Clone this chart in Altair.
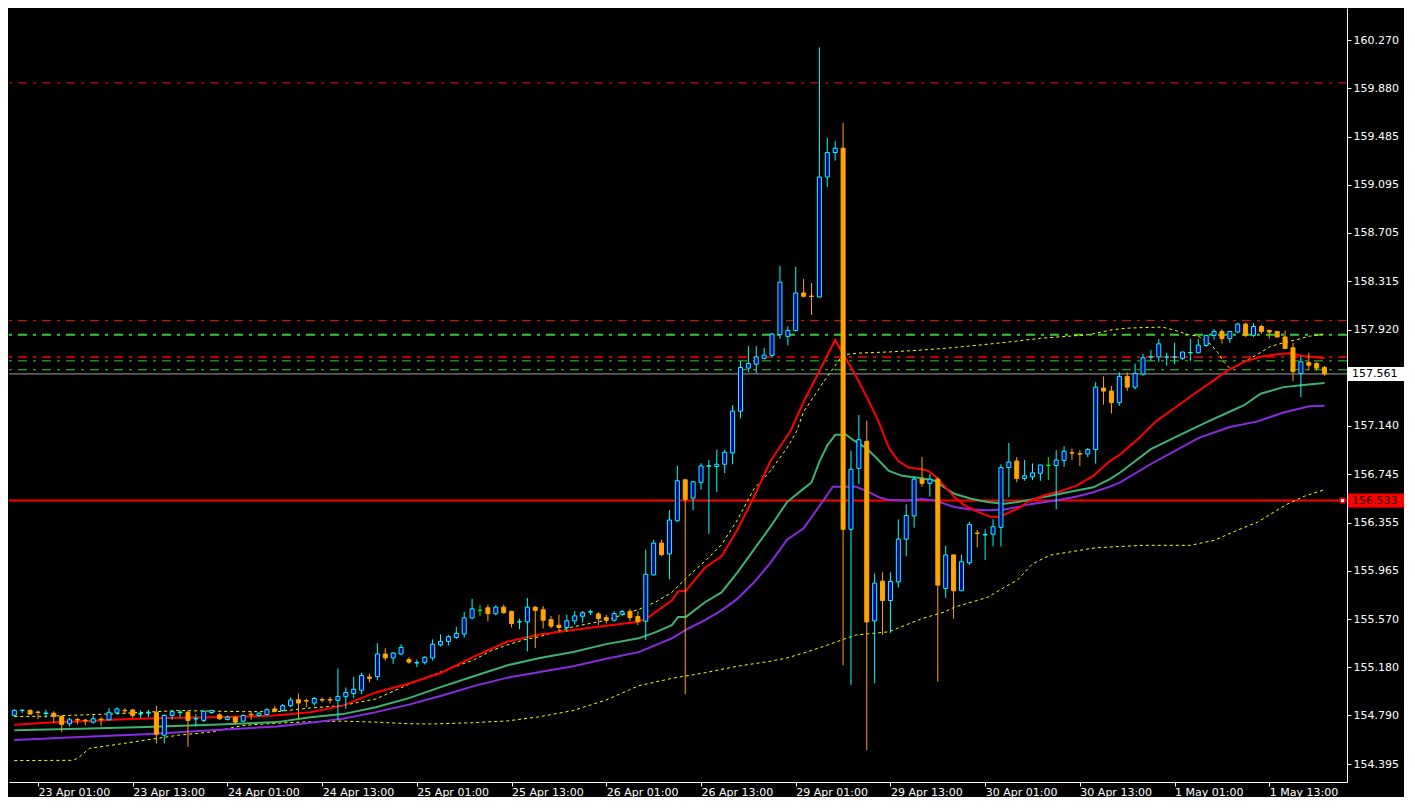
import json
import altair as alt
import pandas as pd

# ---------------- data (hourly candles, bar index 0 = 23 Apr 01:00) ----------------
bar_index = list(range(-3, 164))

opens = [
    154.790, 154.829, 154.830, 154.817, 154.805, 154.807, 154.780, 154.722, 154.756, 154.751,
    154.735, 154.759, 154.754, 154.810, 154.831, 154.834, 154.800, 154.808, 154.815, 154.629,
    154.789, 154.813, 154.815, 154.760, 154.749, 154.813, 154.794, 154.757, 154.775, 154.743,
    154.799, 154.789, 154.797, 154.842, 154.829, 154.868, 154.916, 154.910, 154.890, 154.918,
    154.918, 154.912, 154.941, 154.968, 154.994, 155.101, 155.104, 155.288, 155.256, 155.288,
    155.243, 155.215, 155.221, 155.256, 155.362, 155.389, 155.423, 155.450, 155.581, 155.642,
    155.663, 155.615, 155.668, 155.634, 155.548, 155.548, 155.668, 155.647, 155.567, 155.522,
    155.503, 155.557, 155.594, 155.628, 155.613, 155.583, 155.562, 155.612, 155.634, 155.592,
    155.554, 155.930, 156.188, 156.100, 156.369, 156.702, 156.553, 156.681, 156.812, 156.809,
    156.828, 156.920, 157.259, 157.608, 157.640, 157.688, 157.712, 157.880, 157.866, 157.914,
    158.218, 158.193, 158.186, 159.159, 159.358, 159.393, 156.300, 156.795, 157.014, 155.556,
    155.879, 155.722, 155.873, 156.220, 156.409, 156.707, 156.673, 156.707, 155.820, 156.092,
    155.801, 156.028, 156.270, 156.254, 156.260, 156.316, 156.801, 156.854, 156.713, 156.726,
    156.755, 156.819, 156.817, 156.859, 156.922, 156.913, 156.912, 156.947, 157.446, 157.422,
    157.328, 157.541, 157.454, 157.560, 157.699, 157.699, 157.698, 157.697, 157.688, 157.733,
    157.733, 157.792, 157.874, 157.906, 157.848, 157.901, 157.965, 157.874, 157.946, 157.914,
    157.906, 157.861, 157.773, 157.565, 157.653, 157.645, 157.613,
]
highs = [
    154.840, 154.840, 154.840, 154.830, 154.836, 154.823, 154.790, 154.770, 154.770, 154.762,
    154.789, 154.775, 154.850, 154.855, 154.847, 154.842, 154.829, 154.834, 154.868, 154.797,
    154.829, 154.834, 154.829, 154.802, 154.829, 154.834, 154.807, 154.789, 154.780, 154.797,
    154.823, 154.815, 154.847, 154.868, 154.882, 154.935, 154.967, 154.927, 154.940, 154.935,
    154.940, 155.170, 155.016, 155.104, 155.136, 155.128, 155.375, 155.335, 155.304, 155.367,
    155.261, 155.242, 155.269, 155.407, 155.447, 155.442, 155.509, 155.629, 155.735, 155.687,
    155.687, 155.682, 155.687, 155.639, 155.575, 155.743, 155.677, 155.677, 155.597, 155.607,
    155.607, 155.637, 155.637, 155.647, 155.629, 155.607, 155.634, 155.647, 155.655, 155.634,
    156.135, 156.215, 156.215, 156.455, 156.814, 156.705, 156.690, 156.836, 156.862, 156.947,
    156.947, 157.307, 157.667, 157.786, 157.786, 157.773, 157.893, 158.439, 157.946, 158.431,
    158.333, 158.298, 160.211, 159.476, 159.452, 159.598, 156.939, 157.227, 157.182, 155.943,
    155.951, 155.951, 156.380, 156.502, 156.726, 156.886, 156.747, 156.726, 156.167, 156.095,
    156.095, 156.361, 156.294, 156.300, 156.382, 156.827, 157.000, 156.886, 156.862, 156.835,
    156.822, 156.886, 156.942, 156.974, 156.955, 156.942, 156.960, 157.494, 157.541, 157.462,
    157.573, 157.573, 157.645, 157.725, 157.754, 157.845, 157.733, 157.813, 157.739, 157.845,
    157.845, 157.874, 157.925, 157.925, 157.906, 157.978, 157.978, 157.973, 157.960, 157.920,
    157.910, 157.914, 157.813, 157.707, 157.733, 157.659, 157.627,
]
lows = [
    154.780, 154.810, 154.800, 154.760, 154.770, 154.730, 154.655, 154.700, 154.717, 154.709,
    154.722, 154.703, 154.749, 154.797, 154.800, 154.770, 154.770, 154.775, 154.562, 154.562,
    154.754, 154.775, 154.535, 154.700, 154.735, 154.802, 154.754, 154.749, 154.722, 154.735,
    154.754, 154.780, 154.789, 154.815, 154.820, 154.855, 154.762, 154.855, 154.868, 154.895,
    154.887, 154.754, 154.843, 154.930, 154.962, 155.056, 155.074, 155.234, 155.208, 155.277,
    155.208, 155.181, 155.202, 155.234, 155.349, 155.357, 155.410, 155.421, 155.570, 155.597,
    155.554, 155.602, 155.615, 155.503, 155.490, 155.309, 155.335, 155.495, 155.495, 155.469,
    155.469, 155.527, 155.543, 155.602, 155.522, 155.535, 155.549, 155.597, 155.554, 155.522,
    155.402, 155.925, 156.081, 155.895, 156.361, 154.962, 156.455, 156.622, 156.263, 156.601,
    156.756, 156.827, 157.200, 157.573, 157.565, 157.680, 157.693, 157.845, 157.792, 157.906,
    158.181, 158.040, 158.180, 159.079, 159.292, 155.194, 155.037, 156.667, 154.509, 155.050,
    155.442, 155.460, 155.828, 156.081, 156.313, 156.646, 156.566, 155.063, 155.743, 155.575,
    155.800, 156.010, 156.153, 156.050, 156.161, 156.161, 156.561, 156.681, 156.694, 156.699,
    156.694, 156.699, 156.462, 156.806, 156.862, 156.814, 156.886, 156.833, 157.312, 157.240,
    157.302, 157.422, 157.435, 157.547, 157.667, 157.659, 157.627, 157.640, 157.675, 157.667,
    157.728, 157.781, 157.840, 157.808, 157.813, 157.893, 157.861, 157.861, 157.885, 157.848,
    157.858, 157.768, 157.501, 157.374, 157.587, 157.587, 157.547,
]
closes = [
    154.830, 154.831, 154.800, 154.813, 154.809, 154.780, 154.717, 154.754, 154.752, 154.747,
    154.762, 154.755, 154.815, 154.842, 154.827, 154.789, 154.804, 154.812, 154.637, 154.789,
    154.820, 154.817, 154.749, 154.764, 154.823, 154.829, 154.762, 154.775, 154.735, 154.789,
    154.795, 154.807, 154.836, 154.823, 154.868, 154.914, 154.890, 154.906, 154.927, 154.914,
    154.914, 154.944, 154.976, 155.002, 155.114, 155.090, 155.288, 155.256, 155.296, 155.341,
    155.222, 155.218, 155.261, 155.367, 155.389, 155.429, 155.455, 155.581, 155.655, 155.642,
    155.615, 155.668, 155.623, 155.535, 155.551, 155.668, 155.642, 155.562, 155.514, 155.503,
    155.557, 155.597, 155.623, 155.631, 155.575, 155.562, 155.615, 155.632, 155.583, 155.551,
    155.935, 156.188, 156.095, 156.375, 156.694, 156.542, 156.686, 156.814, 156.815, 156.828,
    156.926, 157.259, 157.613, 157.645, 157.699, 157.714, 157.885, 158.306, 157.914, 158.218,
    158.191, 158.190, 159.159, 159.358, 159.393, 156.300, 156.787, 157.027, 155.548, 155.863,
    155.722, 155.876, 156.220, 156.412, 156.707, 156.673, 156.707, 155.847, 156.092, 155.801,
    156.036, 156.340, 156.266, 156.257, 156.321, 156.801, 156.846, 156.713, 156.734, 156.758,
    156.822, 156.819, 156.862, 156.934, 156.918, 156.910, 156.947, 157.454, 157.422, 157.328,
    157.541, 157.454, 157.565, 157.693, 157.701, 157.805, 157.700, 157.699, 157.739, 157.735,
    157.795, 157.874, 157.906, 157.848, 157.906, 157.965, 157.874, 157.946, 157.906, 157.901,
    157.861, 157.768, 157.581, 157.659, 157.632, 157.608, 157.561,
]

# moving averages (bar index, price)
red_k = [-3, 1, 5, 9.5, 13.6, 17.8, 22, 26, 30, 34.5, 38.6, 42.8, 47, 51.1, 55.3, 59.5, 63.6, 67.8,
         72, 76.1, 77.4, 80.3, 81.1, 82.1, 84.5, 86.6, 88.6, 90.7, 92.8, 95.3, 97, 98.9, 101, 102.2,
         103.5, 105.3, 106.5, 107.8, 109, 110.3, 112, 112.8, 113.6, 114.8, 116.1, 117.4, 119.1,
         120.7, 121.9, 123.2, 124.5, 125.3, 127.4, 129.5, 131.6, 133.7, 135.8, 137.1, 139.5,
         141.6, 144.5, 146.5, 148.6, 150.7, 152.8, 154.9, 157, 158.6, 160.3, 163]
red_v = [154.714, 154.730, 154.740, 154.754, 154.765, 154.770, 154.775, 154.780, 154.788, 154.815,
         154.869, 154.976, 155.048, 155.136, 155.269, 155.389, 155.447, 155.482, 155.518, 155.550,
         155.589, 155.722, 155.796, 155.802, 155.988, 156.081, 156.295, 156.561, 156.854, 157.094,
         157.333, 157.573, 157.837, 157.700, 157.560, 157.334, 157.174, 156.961, 156.854, 156.801,
         156.787, 156.774, 156.734, 156.654, 156.561, 156.494, 156.441, 156.401, 156.401, 156.441,
         156.480, 156.521, 156.574, 156.609, 156.654, 156.734, 156.854, 156.907, 157.040, 157.174,
         157.307, 157.400, 157.493, 157.587, 157.659, 157.701, 157.720, 157.728, 157.707, 157.688]

green_k = [-3, 5.3, 13.6, 22, 30.3, 34.5, 38.6, 42.8, 47, 51.1, 55.3, 59.5, 63.6, 67.8, 72, 76.1,
           78.2, 80.3, 81.1, 82.1, 84.5, 86.6, 88.6, 90.7, 92.8, 94.9, 97, 98, 99, 100, 101, 102.4,
           103.2, 104.9, 106.2, 107.8, 109.5, 112, 113.6, 114.8, 116.1, 118.2, 120.3, 122.4, 124.5,
           127.4, 129.5, 133.7, 135.8, 137.1, 141, 144.5, 148.2, 150.7, 152.8, 154.9, 157.8, 160.3, 163]
green_v = [154.669, 154.682, 154.695, 154.714, 154.735, 154.775, 154.800, 154.855, 154.930, 155.021,
           155.109, 155.197, 155.256, 155.304, 155.368, 155.415, 155.463, 155.522, 155.589, 155.589,
           155.708, 155.788, 155.948, 156.135, 156.321, 156.521, 156.630, 156.680, 156.850, 156.980,
           157.067, 157.067, 157.027, 156.961, 156.881, 156.774, 156.734, 156.715, 156.694, 156.641,
           156.588, 156.548, 156.521, 156.508, 156.525, 156.561, 156.588, 156.641, 156.707, 156.761,
           156.950, 157.060, 157.174, 157.246, 157.307, 157.400, 157.454, 157.472, 157.488]

purple_k = [-3, 5.3, 13.6, 22, 30.3, 34.5, 38.6, 42.8, 47, 51.1, 55.3, 59.5, 63.6, 67.8, 72, 76.1,
            80.3, 82.4, 84.5, 86.6, 88.6, 90.7, 92.8, 94.9, 97, 99.5, 100.7, 103.6, 104.9, 106.5,
            107.8, 109.9, 112, 113.6, 114.8, 116.1, 118.2, 120.3, 122.4, 124.5, 125.3, 129.5, 131.6,
            133.7, 135.8, 137.1, 141, 147, 151, 154.4, 157.8, 161.1, 163]
purple_v = [154.589, 154.615, 154.637, 154.669, 154.700, 154.730, 154.762, 154.816, 154.877, 154.949,
            155.029, 155.096, 155.141, 155.189, 155.250, 155.303, 155.415, 155.495, 155.562, 155.642,
            155.735, 155.868, 156.028, 156.215, 156.308, 156.534, 156.646, 156.646, 156.614, 156.561,
            156.539, 156.534, 156.545, 156.534, 156.508, 156.481, 156.460, 156.454, 156.460, 156.486,
            156.500, 156.540, 156.566, 156.601, 156.646, 156.681, 156.830, 157.040, 157.130, 157.174,
            157.248, 157.299, 157.302]

upper_k = [-3, 1, 9.5, 17.8, 26, 30.3, 34.5, 38.6, 42.8, 47, 51.1, 55.3, 57.4, 59.5, 61.5, 63.6,
           67.8, 72, 76.1, 78.2, 80.3, 82.4, 84.5, 86.6, 88.6, 90.7, 92.8, 94.9, 96.1, 97, 99.5,
           102, 104, 108, 112, 115.7, 122, 127, 132, 133.2, 136.1, 138.2, 140.3, 142.4, 143.2,
           144.5, 145.7, 147, 148.6, 149.5, 150.3, 151.1, 152, 152.8, 154.5, 156.2, 157.8, 159.5,
           161.1, 163]
upper_v = [154.780, 154.783, 154.802, 154.829, 154.820, 154.820, 154.850, 154.870, 154.923, 155.042,
           155.144, 155.242, 155.314, 155.362, 155.402, 155.430, 155.509, 155.562, 155.650, 155.708,
           155.788, 155.921, 156.041, 156.175, 156.375, 156.628, 156.774, 156.961, 157.094, 157.254,
           157.494, 157.717, 157.730, 157.740, 157.755, 157.773, 157.813, 157.850, 157.874, 157.880,
           157.920, 157.933, 157.938, 157.941, 157.930, 157.906, 157.880, 157.867, 157.800, 157.733,
           157.653, 157.600, 157.627, 157.659, 157.720, 157.786, 157.813, 157.840, 157.867, 157.885]

lower_k = [-3, 4.5, 5.3, 6.5, 9.5, 13.6, 17.8, 22, 24, 26.1, 30.3, 34.5, 38.6, 42.8, 47, 50, 55,
           59.5, 63.3, 67.8, 72, 76.1, 80.3, 84.5, 88.6, 92.8, 94.9, 97, 99.5, 103.6, 107.8, 109.9,
           112, 114.8, 116.1, 118.2, 120.3, 122.4, 124.1, 126, 128.2, 134, 140, 146, 149, 152,
           154.5, 158.2, 160.5, 163]
lower_v = [154.423, 154.425, 154.455, 154.522, 154.549, 154.589, 154.629, 154.655, 154.682, 154.709,
           154.727, 154.738, 154.743, 154.735, 154.722, 154.720, 154.730, 154.745, 154.776, 154.829,
           154.915, 155.030, 155.090, 155.136, 155.189, 155.229, 155.256, 155.296, 155.349, 155.442,
           155.468, 155.522, 155.575, 155.628, 155.668, 155.708, 155.748, 155.828, 155.889, 156.020,
           156.090, 156.150, 156.170, 156.170, 156.210, 156.294, 156.358, 156.502, 156.570, 156.622]

# horizontal levels
level_prices = [159.924, 157.995, 157.880, 157.699, 157.667, 157.595, 157.561, 156.533]
level_colors = ["#ff0000", "#ff0000", "#32cd32", "#ff0000", "#32cd32", "#32cd32", "#a0a0a0", "#ff0000"]
level_widths = [1, 1, 2, 1.5, 1, 1, 1, 2]
level_dashed = [True, True, True, True, True, True, False, False]

# axis ticks
price_ticks = [160.270, 159.880, 159.485, 159.095, 158.705, 158.315, 157.920, 157.530, 157.140,
               156.745, 156.355, 155.965, 155.570, 155.180, 154.790, 154.395]
time_tick_index = [0, 12, 24, 36, 48, 60, 72, 84, 96, 108, 120, 132, 144, 156]
time_tick_labels = ["23 Apr 01:00", "23 Apr 13:00", "24 Apr 01:00", "24 Apr 13:00",
                    "25 Apr 01:00", "25 Apr 13:00", "26 Apr 01:00", "26 Apr 13:00",
                    "29 Apr 01:00", "29 Apr 13:00", "30 Apr 01:00", "30 Apr 13:00",
                    "1 May 01:00", "1 May 13:00"]

bid_price = 157.561
line_price = 156.533

# ---------------- chart ----------------
W, H = 1338, 774
FONT = "DejaVu Sans"

xs = alt.Scale(domain=[-3.04, 165.21], nice=False, zero=False)
ys = alt.Scale(domain=[154.249, 160.531], nice=False, zero=False)

label_expr = (json.dumps(time_tick_labels) + "[indexof(" + json.dumps(time_tick_index)
              + ", datum.value)]")
xaxis = alt.Axis(values=time_tick_index, labelExpr=label_expr, orient="bottom", grid=False,
                 labelAlign="left", labelPadding=0, labelFont=FONT, labelFontSize=11,
                 labelColor="#ffffff", tickColor="#ffffff", tickSize=4, domainColor="#ffffff",
                 labelOverlap=False, labelFlush=False, labelBound=False, title=None)
yaxis = alt.Axis(values=price_ticks, format=".3f", orient="right", grid=False,
                 labelPadding=2, labelFont=FONT, labelFontSize=11, labelColor="#ffffff",
                 tickColor="#ffffff", tickSize=4, domainColor="#ffffff",
                 labelOverlap=False, labelFlush=False, labelBound=False, title=None)


def X(f):
    return alt.X(f + ":Q", scale=xs, axis=xaxis, title=None)


def Y(f):
    return alt.Y(f + ":Q", scale=ys, axis=yaxis, title=None)


cand = pd.DataFrame({"k": bar_index, "o": opens, "h": highs, "l": lows, "c": closes})
cand["dir"] = ["up" if c > o else ("down" if c < o else "doji") for o, c in zip(opens, closes)]

dirs = ["up", "down", "doji"]
fill_scale = alt.Scale(domain=dirs, range=["#00008b", "#ffa500", "#00ff00"])
stroke_scale = alt.Scale(domain=dirs, range=["#00ffff", "#ffa500", "#00ff00"])

layers = []

# horizontal levels
for p, col, w, d in zip(level_prices, level_colors, level_widths, level_dashed):
    kw = {"strokeDash": [9, 6, 3, 6]} if d else {}
    layers.append(
        alt.Chart(pd.DataFrame({"p": [p]})).mark_rule(color=col, strokeWidth=w, **kw)
        .encode(y=Y("p"))
    )


def line(ks, vs, color, width, dash=None):
    kw = {"strokeDash": dash} if dash else {}
    return alt.Chart(pd.DataFrame({"k": ks, "p": vs})).mark_line(
        color=color, strokeWidth=width, clip=True, **kw
    ).encode(x=X("k"), y=Y("p"))


layers.append(line(lower_k, lower_v, "#ffff00", 1, [3, 3]))
layers.append(line(upper_k, upper_v, "#ffff00", 1, [3, 3]))
layers.append(line(purple_k, purple_v, "#8a2be2", 2))
layers.append(line(green_k, green_v, "#3cb371", 2))
layers.append(line(red_k, red_v, "#ff0000", 2))

# candle wicks and bodies
layers.append(
    alt.Chart(cand).mark_rule(strokeWidth=1, clip=True).encode(
        x=X("k"), y=Y("l"), y2="h:Q",
        stroke=alt.Stroke("dir:N", scale=stroke_scale, legend=None),
    )
)
layers.append(
    alt.Chart(cand).mark_bar(size=4, strokeWidth=1, clip=True).encode(
        x=X("k"), y=Y("o"), y2="c:Q",
        fill=alt.Fill("dir:N", scale=fill_scale, legend=None),
        stroke=alt.Stroke("dir:N", scale=stroke_scale, legend=None),
    )
)

# end marker of the solid red level
layers.append(
    alt.Chart(pd.DataFrame({"p": [line_price]})).mark_point(
        shape="square", size=20, filled=True, fill="#ffffff", stroke="#ff0000",
        strokeWidth=1.5, opacity=1
    ).encode(x=alt.value(W - 4.5), y=Y("p"))
)

# price boxes on the right scale
box_path = "M-1,-0.25L1,-0.25L1,0.25L-1,0.25Z"
box_df = pd.DataFrame({"p": [bid_price, line_price],
                       "t": [f"{bid_price:.3f}", f"{line_price:.3f}"],
                       "bg": ["#ffffff", "#ff0000"],
                       "fg": ["#000000", "#2a0000"]})
layers.append(
    alt.Chart(box_df).mark_point(shape=box_path, size=3136, filled=True, opacity=1,
                                 strokeWidth=0).encode(
        x=alt.value(W + 29), y=Y("p"), fill=alt.Fill("bg:N", scale=None)
    )
)
layers.append(
    alt.Chart(box_df).mark_text(align="left", baseline="middle", font=FONT, fontSize=11).encode(
        x=alt.value(W + 5), y=Y("p"), text="t:N", color=alt.Color("fg:N", scale=None)
    )
)

chart = (
    alt.layer(*layers)
    .properties(width=W, height=H, background="#000000", padding=0)
    .configure_view(stroke=None)
)

chart.save("out.html", embed_options={"renderer": "svg", "actions": False})
